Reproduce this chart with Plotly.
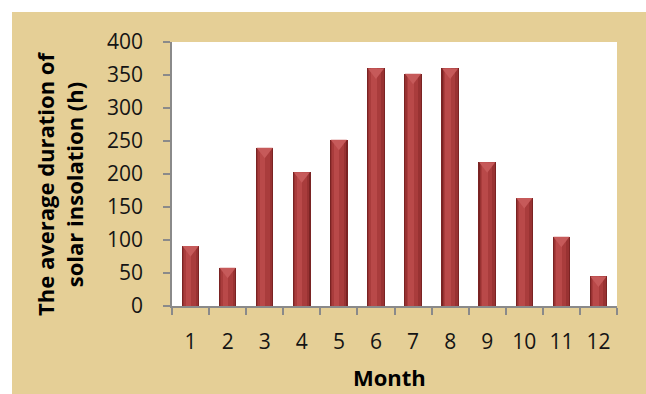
import plotly.graph_objects as go

# Average monthly duration of solar insolation (hours)
months = [str(m) for m in range(1, 13)]
hours = [91, 58, 240, 203, 252, 360, 352, 360, 218, 164, 105, 45]
y_ticks = list(range(0, 401, 50))

W, H = 646, 394
L, R, T, B = 172, 29, 42, 88
PW, PH = W - L - R, H - T - B

PARCHMENT = "#E5CF96"
AXIS = "#8A8A8A"
TXT = "#141414"
FONT = "Open Sans"

fig = go.Figure()

# stacked-width overlay bars give each column a rounded, lit look
layers = [
    (0.47, 0.00, "#7A2323"),
    (0.41, 0.00, "#983232"),
    (0.31, -0.02, "#A93C3C"),
    (0.15, -0.06, "#B94949"),
]
for w, shift, col in layers:
    fig.add_trace(go.Bar(
        x=months, y=hours, width=w, offset=-w / 2 + shift,
        marker=dict(color=col, line=dict(width=0)),
        hoverinfo="skip", showlegend=False,
    ))

# bevelled cap on top of each column
fig.add_trace(go.Scatter(
    x=months, y=[v - 5.5 for v in hours], mode="markers",
    marker=dict(symbol="triangle-down", size=14, color="#C65A5A",
                line=dict(width=0)),
    hoverinfo="skip", showlegend=False,
))

shapes = [
    # white frame strips on the left and top of the parchment
    dict(type="rect", xref="paper", yref="paper",
         x0=-L / PW, x1=(12 - L) / PW, y0=-B / PH, y1=1 + T / PH,
         fillcolor="white", line=dict(width=0), layer="below"),
    dict(type="rect", xref="paper", yref="paper",
         x0=-L / PW, x1=1 + R / PW, y0=1 + (T - 12) / PH, y1=1 + T / PH,
         fillcolor="white", line=dict(width=0), layer="below"),
]

annotations = [
    dict(text="<b>The average duration of<br>solar insolation (h)</b>",
         xref="paper", yref="paper",
         x=(59 - L) / PW, y=(H - B - 184) / PH,
         xanchor="center", yanchor="middle", textangle=-90,
         showarrow=False, font=dict(family=FONT, size=22, color="black")),
    dict(text="<b>Month</b>", xref="paper", yref="paper",
         x=(389 - L) / PW, y=-(360 - (H - B)) / PH,
         xanchor="center", yanchor="top",
         showarrow=False, font=dict(family=FONT, size=22, color="black")),
]

fig.update_layout(
    width=W, height=H,
    margin=dict(l=L, r=R, t=T, b=B, pad=0),
    paper_bgcolor=PARCHMENT, plot_bgcolor="white",
    barmode="overlay", bargap=0,
    shapes=shapes, annotations=annotations,
    font=dict(family=FONT, color=TXT),
)
fig.update_xaxes(
    type="category", range=[-0.5, 11.5],
    showline=True, linecolor=AXIS, linewidth=1.5,
    ticks="outside", ticklen=7, tickcolor=AXIS, tickwidth=1.5,
    tickson="boundaries", showgrid=False, zeroline=False,
    tickfont=dict(family=FONT, size=21, color=TXT), ticklabelstandoff=16,
)
fig.update_yaxes(
    range=[0, 400], tickvals=y_ticks,
    showline=True, linecolor=AXIS, linewidth=1.5,
    ticks="outside", ticklen=7, tickcolor=AXIS, tickwidth=1.5,
    showgrid=False, zeroline=False,
    tickfont=dict(family=FONT, size=21, color=TXT), ticklabelstandoff=16,
)

fig.write_html("out.html")
